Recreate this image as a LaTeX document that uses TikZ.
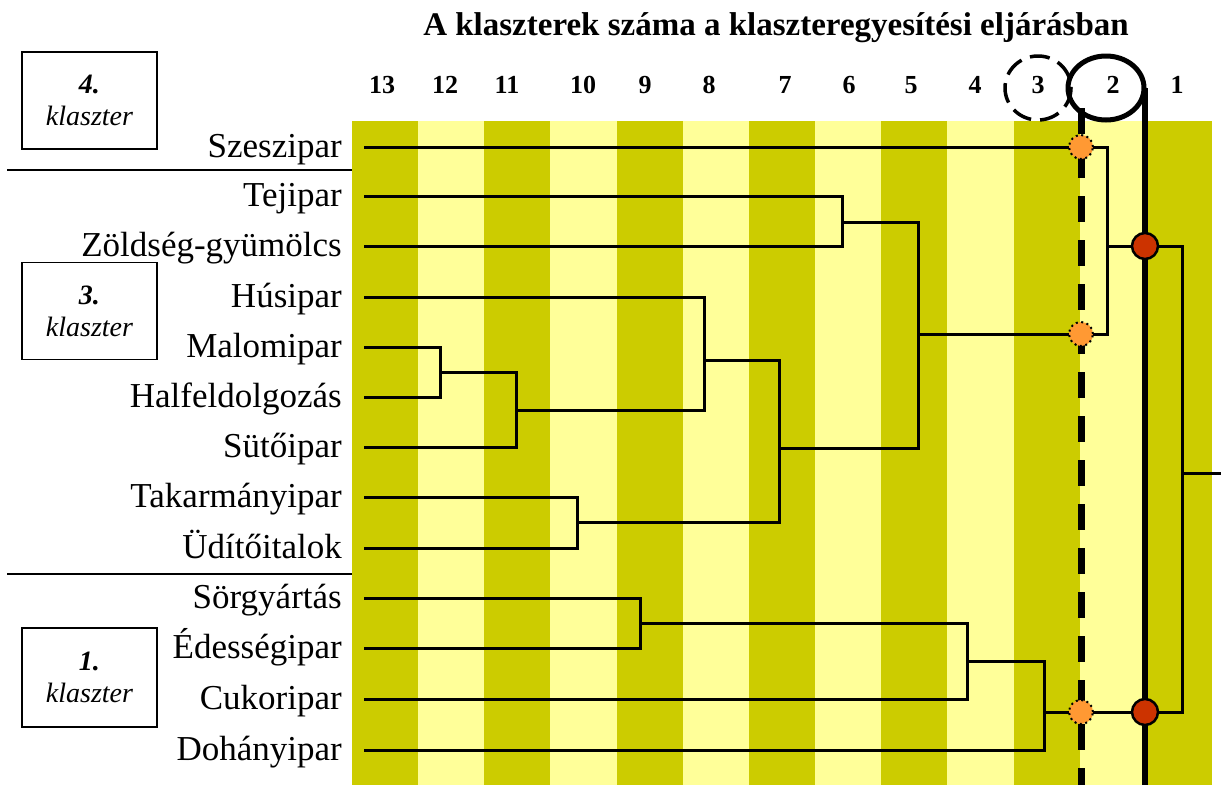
\documentclass[tikz,border=0pt]{standalone}
\usepackage{fontspec}
\setmainfont{Liberation Serif}
\usepackage{tikz}
\usetikzlibrary{calc}
\definecolor{klsdark}{HTML}{CCCC00}
\definecolor{klslight}{HTML}{FFFF99}
\definecolor{klsorange}{HTML}{FF9933}
\definecolor{klsred}{HTML}{CC3300}
\tikzset{
  leaflabel/.style={anchor=base east, inner sep=0pt,
    font=\fontsize{35}{40}\selectfont},
  colnum/.style={inner sep=0pt, font=\fontsize{26}{30}\selectfont\bfseries},
  charttitle/.style={inner sep=0pt, font=\fontsize{33}{38}\selectfont\bfseries},
  clbox/.style={draw, line width=1.5pt, minimum width=135pt,
    minimum height=97pt, align=center, inner sep=0pt,
    font=\fontsize{28}{32}\selectfont\itshape},
  sepline/.style={line width=1.5pt},
  dendro/.style={line width=3pt},
  cutdashed/.style={line width=7pt, dash pattern=on 26pt off 18pt},
  cutsolid/.style={line width=6.5pt},
  cutring/.style={line width=5pt},
  cutringdashed/.style={line width=3.5pt, dash pattern=on 20pt off 9pt},
  orangedot/.style={circle, fill=klsorange, draw, line width=2pt,
    dash pattern=on 2pt off 3.5pt, minimum size=24pt, inner sep=0pt},
  reddot/.style={circle, fill=klsred, draw, line width=2.5pt,
    minimum size=26pt, inner sep=0pt}
}

\begin{document}
\begin{tikzpicture}[x=1pt, y=-1pt]
  \useasboundingbox (0,0) rectangle (1224,785);

  % stripes
  \foreach \i in {0,2,...,12}
    \fill[klsdark] ({352+66.15*\i},121) rectangle ({352+66.15*(\i+1)},785);
  \foreach \i in {1,3,...,11}
    \fill[klslight] ({352+66.15*\i},121) rectangle ({352+66.15*(\i+1)},785);

  \node[charttitle] (title) at (776,28)
    {A klaszterek száma a klaszteregyesítési eljárásban};
  \foreach \n/\x in {13/382,12/445,11/507,10/583,9/645,8/709,7/785,
                     6/849,5/911,4/975,3/1038,2/1113,1/1177}
    \node[colnum] (col\n) at (\x,85) {\n};

  % leaves
  \foreach \name/\txt/\y in {szesz/Szeszipar/147, tej/Tejipar/196,
      zold/Zöldség-gyümölcs/246, hus/Húsipar/297, malom/Malomipar/347,
      hal/Halfeldolgozás/397, sut/Sütőipar/447, tak/Takarmányipar/497,
      udit/Üdítőitalok/548, sor/Sörgyártás/598, edes/Édességipar/648,
      cukor/Cukoripar/699, dohany/Dohányipar/750} {
    \node[leaflabel] (lab\name) at (342,\y+10) {\txt};
    \coordinate (l\name) at (364,\y);
  }

  % merges
  \coordinate (m1)  at (440,372);
  \coordinate (m2)  at (516,410);
  \coordinate (m3)  at (704,360);
  \coordinate (m4)  at (577,522);
  \coordinate (m5)  at (779,448);
  \coordinate (m6)  at (842,222);
  \coordinate (m7)  at (918,334);
  \coordinate (m8)  at (640,623);
  \coordinate (m9)  at (967,661);
  \coordinate (m10) at (1044,712);
  \coordinate (m11) at (1107,246);
  \coordinate (m12) at (1182,473);
  \coordinate (root) at (1221,473);

  \draw[dendro] (lmalom) -| (m1) |- (lhal);
  \draw[dendro] (m1) -| (m2) |- (lsut);
  \draw[dendro] (lhus) -| (m3) |- (m2);
  \draw[dendro] (ltak) -| (m4) |- (ludit);
  \draw[dendro] (m3) -| (m5) |- (m4);
  \draw[dendro] (ltej) -| (m6) |- (lzold);
  \draw[dendro] (m6) -| (m7) |- (m5);
  \draw[dendro] (lsor) -| (m8) |- (ledes);
  \draw[dendro] (m8) -| (m9) |- (lcukor);
  \draw[dendro] (m9) -| (m10) |- (ldohany);
  \draw[dendro] (lszesz) -| (m11) |- (m7);
  \draw[dendro] (m11) -| (m12) |- (m10);
  \draw[dendro] (m12) -- (root);

  % cuts
  \coordinate (cut3top) at (1081,108);
  \coordinate (cut3bot) at (1081,785);
  \coordinate (cut2top) at (1145,88);
  \coordinate (cut2bot) at (1145,785);
  \draw[cutdashed] (cut3top) -- (cut3bot);
  \draw[cutsolid] (cut2top) -- (cut2bot);
  \draw[cutringdashed] (1038,88) ellipse (33 and 32);
  \draw[cutring] (1106,88) ellipse (38 and 32);

  \node[orangedot] (dot3a) at (1081,147) {};
  \node[orangedot] (dot3b) at (1081,334) {};
  \node[orangedot] (dot3c) at (1081,712) {};
  \node[reddot] (dot2a) at (1145,246) {};
  \node[reddot] (dot2b) at (1145,712) {};

  % clusters
  \node[clbox] (cl4) at (89.5,100.5) {\textbf{4.}\\klaszter};
  \node[clbox] (cl3) at (89.5,311) {\textbf{3.}\\klaszter};
  \node[clbox, minimum height=99pt] (cl1) at (89.5,677.5) {\textbf{1.}\\klaszter};
  \draw[sepline] (7,170) -- (352,170);
  \draw[sepline] (7,574) -- (352,574);
\end{tikzpicture}
\end{document}
